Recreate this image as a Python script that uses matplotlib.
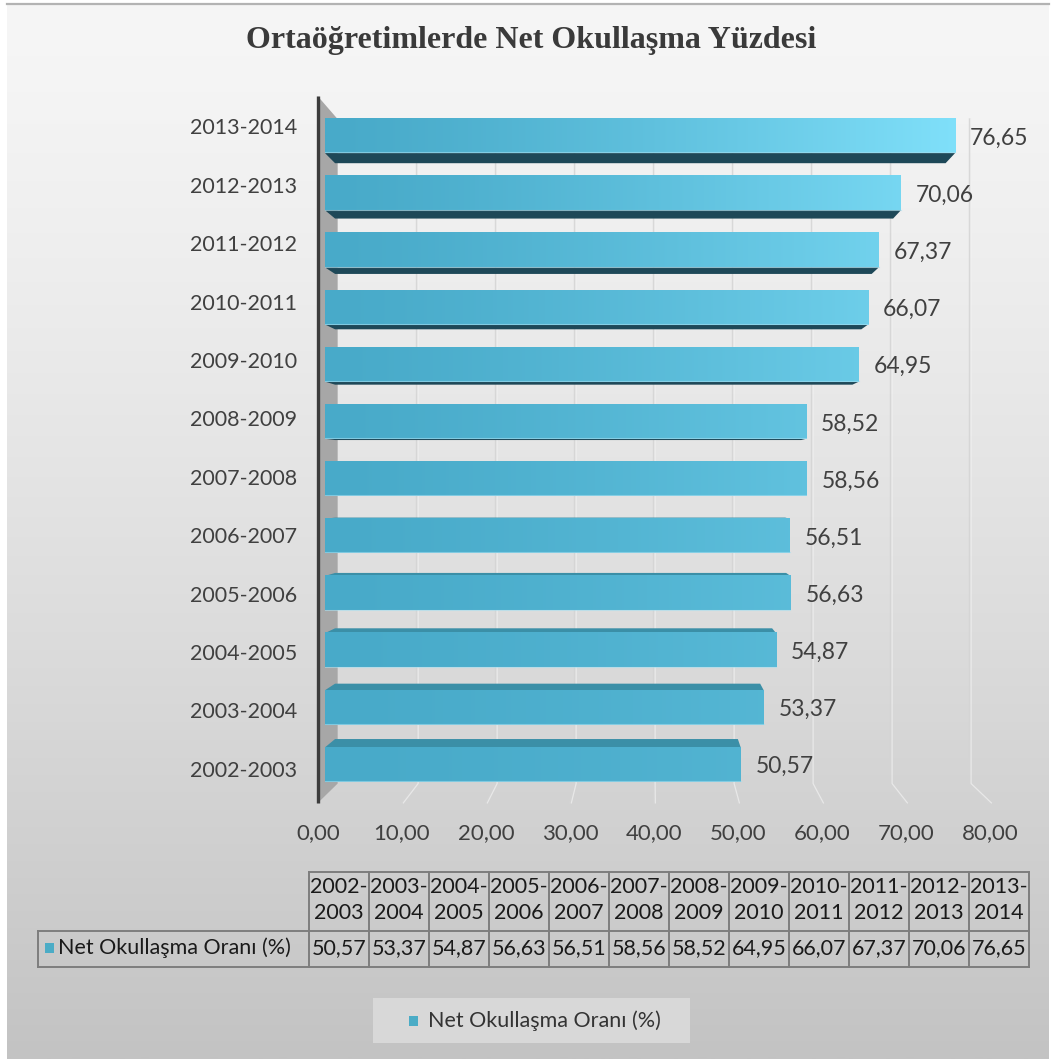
import numpy as np
import matplotlib
matplotlib.use("Agg")
import matplotlib.pyplot as plt
from matplotlib.patches import Polygon, Rectangle
from matplotlib.colors import to_rgb

# ---- data -------------------------------------------------------------
years = ["2002-2003", "2003-2004", "2004-2005", "2005-2006", "2006-2007",
         "2007-2008", "2008-2009", "2009-2010", "2010-2011", "2011-2012",
         "2012-2013", "2013-2014"]
rates = [50.57, 53.37, 54.87, 56.63, 56.51, 58.56, 58.52, 64.95, 66.07,
         67.37, 70.06, 76.65]
x_ticks = [0, 10, 20, 30, 40, 50, 60, 70, 80]
title = "Ortaöğretimlerde Net Okullaşma Yüzdesi"
series_name = "Net Okullaşma Oranı (%)"


def fmt(v):
    return f"{v:.2f}".replace(".", ",")


# ---- figure / page ------------------------------------------------------
W, H = 1051, 1059
fig = plt.figure(figsize=(W / 100, H / 100), dpi=100, facecolor="white")

page = fig.add_axes([0, 0, 1, 1])
page.set_xlim(0, W)
page.set_ylim(H, 0)
page.axis("off")

# soft vertical gradient for the chart area
top_c = np.array(to_rgb("#f6f6f6"))
bot_c = np.array(to_rgb("#c3c3c3"))
t = np.linspace(0, 1, 256) ** 1.3
grad = (top_c[None, :] * (1 - t[:, None]) + bot_c[None, :] * t[:, None])[:, None, :]
page.imshow(grad, extent=(7, W - 2, H, 3), aspect="auto", interpolation="bilinear", zorder=0)
page.plot([7, W - 2], [3.5, 3.5], color="#b3b3b3", lw=1.6, zorder=1)

FONT = ["Lato", "DejaVu Sans"]
TXT = "#404040"

# ---- chart axes (value units horizontally, category index vertically) ---
X0, PXU = 325.0, 8.22      # pixel of value 0 and pixels per value unit
Y0, ROW = 764.5, 57.14     # pixel of first category and pixels per row
ax = fig.add_axes([0, 0, 1, 1], zorder=2)
ax.patch.set_alpha(0)
ax.axis("off")

CX, CY = 39.5, 5.0          # vanishing point of the 3-D view
S_FRONT, S_WALL, S_BACK = 1.022, 0.961, 0.969
YT, YB = 11.55, -0.55
HALF = 0.3


def proj(v, i, s):
    return CX + s * (v - CX), CY + s * (i - CY)


# side wall and the axis line
wall = [proj(0, YT, S_FRONT), proj(0, YT, S_WALL), proj(0, YB, S_WALL), proj(0, YB, S_FRONT)]
ax.add_patch(Polygon(wall, closed=True, fc="#a7a7a7", ec="none", zorder=2))
p1, p2 = proj(0, YT, S_FRONT), proj(0, YB, S_FRONT)
ax.plot([p1[0], p2[0]], [p1[1], p2[1]], color="#3c3c3c", lw=2.4,
        solid_capstyle="butt", zorder=3)

# gridlines on the back wall and floor
for v in x_ticks[1:]:
    a = proj(v, YT, S_WALL)
    b = proj(v, YB, S_WALL)
    c = proj(v, YB, S_FRONT)
    ax.plot([a[0], b[0], c[0]], [a[1], b[1], c[1]], color="#d4d4d4", lw=1.2,
            alpha=0.85, zorder=1.5)
    ax.plot([a[0] + 0.18, b[0] + 0.18, c[0] + 0.18], [a[1], b[1], c[1]],
            color="#f2f2f2", lw=0.9, alpha=0.7, zorder=1.6)

# bars
base = np.array(to_rgb("#48aac9"))
bright = np.array(to_rgb("#80e0fa"))
n = len(rates)
for i, val in enumerate(rates):
    lo, hi = i - HALF, i + HALF
    if hi < CY:
        face = [proj(0, hi, 1), proj(val, hi, 1), proj(val, hi, S_BACK), proj(0, hi, S_BACK)]
        ax.add_patch(Polygon(face, closed=True, fc="#3b8fa7", ec="none", zorder=4))
    elif lo > CY:
        face = [proj(0, lo, 1), proj(val, lo, 1), proj(val, lo, S_BACK), proj(0, lo, S_BACK)]
        ax.add_patch(Polygon(face, closed=True, fc="#1e4858", ec="none", zorder=4))
    xs = np.linspace(0, val, 200)
    tt = np.clip(xs / 77.0, 0, 1) ** 1.3 * (0.3 + 0.7 * i / (n - 1))
    cols = base[None, :] * (1 - tt[:, None]) + bright[None, :] * tt[:, None]
    ax.imshow(cols[None, :, :], extent=(0, val, lo, hi), aspect="auto",
              interpolation="bilinear", zorder=5)
    ax.plot([0, val], [lo + 0.012, lo + 0.012], color="#a6dff0", lw=0.8, alpha=0.6, zorder=5.5)
    ax.text(val + 15 / PXU, i - 0.04, fmt(val), ha="left", va="center",
            fontsize=16.5, color=TXT, family=FONT, zorder=6)

# category labels
for i, lab in enumerate(years):
    ax.text((297 - X0) / PXU, proj(0, i, S_FRONT)[1], lab, ha="right", va="center",
            fontsize=15.5, color=TXT, family=FONT, zorder=6)

# value axis labels
ytick = (Y0 - 833) / ROW
for v in x_ticks:
    ax.text(proj(v, 0, S_FRONT)[0], ytick, fmt(v), ha="center", va="center",
            fontsize=16, color=TXT, family=FONT, zorder=6)

ax.set_xlim(-X0 / PXU, (W - X0) / PXU)
ax.set_ylim((Y0 - H) / ROW, Y0 / ROW)

# ---- title ---------------------------------------------------------------
page.text(531, 48, title, ha="center", va="baseline", fontsize=23, fontweight="bold",
          color="#3a3a3a", family=["Liberation Serif", "DejaVu Serif"], zorder=5)

# ---- data table ------------------------------------------------------------
LINE = "#7d7d7d"
tx0, tx1 = 309.0, 1029.0
cw = (tx1 - tx0) / len(years)
ty0, ty1, ty2 = 872.0, 931.0, 967.0
lx0 = 38.0
page.plot([tx0, tx1], [ty0, ty0], color=LINE, lw=1.4, zorder=3)
page.plot([lx0, tx1], [ty1, ty1], color=LINE, lw=1.4, zorder=3)
page.plot([lx0, tx1], [ty2, ty2], color=LINE, lw=1.4, zorder=3)
page.plot([lx0, lx0], [ty1, ty2], color=LINE, lw=1.4, zorder=3)
for j in range(len(years) + 1):
    xx = tx0 + j * cw
    page.plot([xx, xx], [ty0, ty2], color=LINE, lw=1.4, zorder=3)
for j, (lab, val) in enumerate(zip(years, rates)):
    xc = tx0 + (j + 0.5) * cw
    a, b = lab.split("-")
    page.text(xc, 887, a + "-", ha="center", va="center", fontsize=15.5,
              color="#1a1a1a", family=FONT, zorder=4)
    page.text(xc, 913, b, ha="center", va="center", fontsize=15.5,
              color="#1a1a1a", family=FONT, zorder=4)
    page.text(xc, 948, fmt(val), ha="center", va="center", fontsize=15.5,
              color="#1a1a1a", family=FONT, zorder=4)
page.add_patch(Rectangle((45, 943), 9, 10, fc="#4bacc6", ec="none", zorder=4))
page.text(58, 948, series_name, ha="left", va="center", fontsize=15.5,
          color="#1a1a1a", family=FONT, zorder=4)

# ---- legend ----------------------------------------------------------------
page.add_patch(Rectangle((373, 998), 317, 45, fc="#d8d8d8", ec="none", zorder=3))
page.add_patch(Rectangle((409, 1016), 9, 10, fc="#4bacc6", ec="none", zorder=4))
page.text(428, 1021, series_name, ha="left", va="center", fontsize=15.5,
          color="#333333", family=FONT, zorder=4)

fig.savefig("out.png", dpi=100, facecolor="white")
